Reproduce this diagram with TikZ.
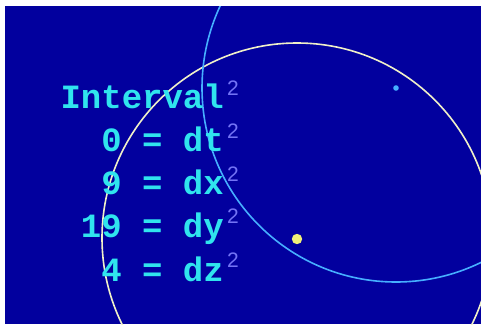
\documentclass[tikz,border=0pt]{standalone}
\usepackage{fontspec}
\newfontfamily\monob[]{Liberation Mono}
\newfontfamily\supf{Liberation Sans}
\definecolor{bgblue}{RGB}{2,0,158}
\definecolor{txtcyan}{RGB}{48,228,238}
\definecolor{suplav}{RGB}{115,115,245}
\definecolor{ringyel}{RGB}{240,240,200}
\definecolor{ringcyan}{RGB}{70,175,255}
\definecolor{dotyel}{RGB}{240,240,120}
\tikzset{
  eqline/.style={anchor=base east, inner sep=0pt, text=txtcyan, font=\monob\bfseries\fontsize{34}{34}\selectfont},
  supnum/.style={anchor=base west, inner sep=0pt, text=suplav, font=\supf\fontsize{21}{21}\selectfont},
}
\begin{document}
\begin{tikzpicture}[x=1pt,y=-1pt]
\useasboundingbox (0,0) rectangle (481,324);
\fill[white] (0,0) rectangle (481,324);
\fill[bgblue] (5,6) rectangle (481,324);
\begin{scope}
\clip (5,6) rectangle (481,324);
\draw[ringyel, line width=1.6pt] (297,238) circle (195);
\draw[ringcyan, line width=1.6pt] (396,88) circle (194);
\end{scope}
\fill[dotyel] (297,239) circle (5.2);
\fill[ringcyan] (396,88) circle (2.8);
\node[eqline] (l0) at (224,108) {Interval};
\node[eqline] (l1) at (224,151) {0 = dt};
\node[eqline] (l2) at (224,194) {9 = dx};
\node[eqline] (l3) at (224,237) {19 = dy};
\node[eqline] (l4) at (224,281) {4 = dz};
\node[supnum] (s0) at (227,95) {2};
\node[supnum] (s1) at (227,138) {2};
\node[supnum] (s2) at (227,181) {2};
\node[supnum] (s3) at (227,223) {2};
\node[supnum] (s4) at (227,267) {2};
\end{tikzpicture}
\end{document}
